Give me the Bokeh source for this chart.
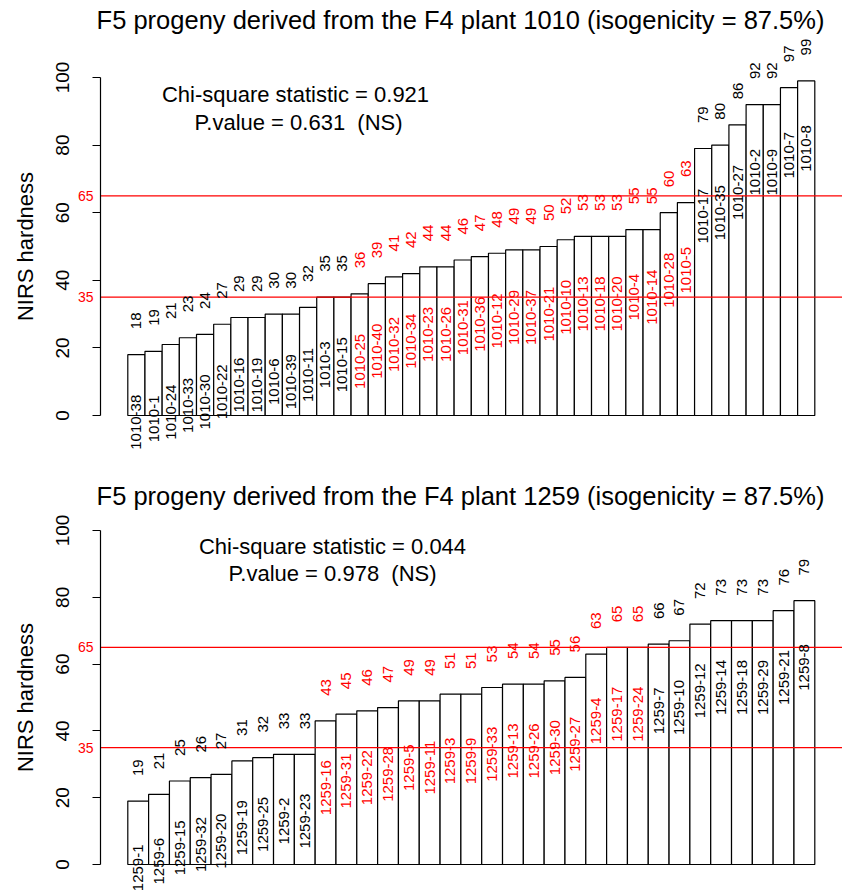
import math
from bokeh.plotting import figure
from bokeh.models import ColumnDataSource, Label, FixedTicker, Range1d
from bokeh.layouts import column
from bokeh.core.properties import value
from bokeh.embed import file_html
from bokeh.resources import INLINE

FONT = "Liberation Sans"

# ---- data ----
top_title = "F5 progeny derived from the F4 plant 1010 (isogenicity = 87.5%)"
top_stat = "Chi-square statistic = 0.921"
top_pval = "P.value = 0.631\u00a0 (NS)"
top_names = ["1010-38", "1010-1", "1010-24", "1010-33", "1010-30", "1010-22", "1010-16",
             "1010-19", "1010-6", "1010-39", "1010-11", "1010-3", "1010-15", "1010-25",
             "1010-40", "1010-32", "1010-34", "1010-23", "1010-26", "1010-31", "1010-36",
             "1010-12", "1010-29", "1010-37", "1010-21", "1010-10", "1010-13", "1010-18",
             "1010-20", "1010-4", "1010-14", "1010-28", "1010-5", "1010-17", "1010-35",
             "1010-27", "1010-2", "1010-9", "1010-7", "1010-8"]
top_values = [18, 19, 21, 23, 24, 27, 29, 29, 30, 30, 32, 35, 35, 36, 39, 41, 42, 44, 44, 46,
              47, 48, 49, 49, 50, 52, 53, 53, 53, 55, 55, 60, 63, 79, 80, 86, 92, 92, 97, 99]

bot_title = "F5 progeny derived from the F4 plant 1259 (isogenicity = 87.5%)"
bot_stat = "Chi-square statistic = 0.044"
bot_pval = "P.value = 0.978\u00a0 (NS)"
bot_names = ["1259-1", "1259-6", "1259-15", "1259-32", "1259-20", "1259-19", "1259-25",
             "1259-2", "1259-23", "1259-16", "1259-31", "1259-22", "1259-28", "1259-5",
             "1259-11", "1259-3", "1259-9", "1259-33", "1259-13", "1259-26", "1259-30",
             "1259-27", "1259-4", "1259-17", "1259-24", "1259-7", "1259-10", "1259-12",
             "1259-14", "1259-18", "1259-29", "1259-21", "1259-8"]
bot_values = [19, 21, 25, 26, 27, 31, 32, 33, 33, 43, 45, 46, 47, 49, 49, 51, 51, 53, 54, 54,
              55, 56, 63, 65, 65, 66, 67, 72, 73, 73, 73, 76, 79]

thresholds = [35, 65]
y_ticks = [0, 20, 40, 60, 80, 100]
y_label = "NIRS hardness"

W = 842
BAR_LEFT_PX = 127.3     # pixel where the first bar starts
BAR_RIGHT_PX = 814.3    # pixel where the last bar ends
AXIS_PX = 100           # pixel of the y axis line


def make_panel(names, vals, title, stat, pval, height, yr, title_y, stat_y, pval_y,
               title_px, stat_px, pval_px):
    n = len(vals)
    bw = (BAR_RIGHT_PX - BAR_LEFT_PX) / n          # pixels per bar
    px2x = lambda px: (px - BAR_LEFT_PX) / bw       # pixel -> data x
    x_start, x_end = px2x(0), px2x(W)
    axis_x = px2x(AXIS_PX)

    xs = [i + 0.5 for i in range(n)]
    colors = ["red" if (thresholds[0] < v <= thresholds[1]) else "black" for v in vals]
    src = ColumnDataSource(dict(
        x=xs, top=vals, names=names, colors=colors,
        vlab=[str(v) for v in vals],
        ytop=[v + 10 for v in vals],
        yname=[v - 20 for v in vals],
    ))
    p = figure(width=W, height=height, output_backend="svg", toolbar_location=None,
               x_range=Range1d(x_start, x_end), y_range=Range1d(*yr),
               x_axis_location=None, y_axis_location="left",
               min_border_left=0, min_border_right=0, min_border_top=0, min_border_bottom=0)
    p.outline_line_color = None
    p.grid.visible = False
    p.background_fill_color = "white"

    ax = p.yaxis[0]
    ax.fixed_location = axis_x
    ax.ticker = FixedTicker(ticks=y_ticks)
    ax.bounds = (0, 100)
    ax.major_label_orientation = "vertical"
    ax.major_label_text_font = FONT
    ax.major_label_text_font_size = "19px"
    ax.major_label_text_color = "black"
    ax.major_label_standoff = 23
    ax.major_tick_in = 0
    ax.major_tick_out = 8
    ax.minor_tick_line_color = None
    ax.axis_line_width = 1.2
    ax.major_tick_line_width = 1.2
    ax.axis_line_color = "black"
    ax.major_tick_line_color = "black"

    p.vbar(x="x", top="top", bottom=0, width=1.0, source=src,
           fill_color="white", line_color="black", line_width=1.2)

    thr_src = ColumnDataSource(dict(y=thresholds, lab=[str(t) for t in thresholds]))
    p.segment(x0=axis_x, x1=x_end, y0="y", y1="y", source=thr_src,
              line_color="red", line_width=1.3)
    p.text(x=px2x(93), y="y", text="lab", source=thr_src, text_align="right",
           text_baseline="middle", text_color="red", text_font=value(FONT),
           text_font_size="14px")

    p.text(x="x", y="ytop", text="vlab", source=src, angle=math.pi / 2,
           text_align="center", text_baseline="middle", text_color="colors",
           text_font=value(FONT), text_font_size="15px")
    p.text(x="x", y="yname", text="names", source=src, angle=math.pi / 2,
           text_align="center", text_baseline="middle", text_color="colors",
           text_font=value(FONT), text_font_size="15px")

    p.add_layout(Label(x=px2x(25), y=50, text=y_label, angle=math.pi / 2,
                       text_align="center", text_baseline="middle", text_font=FONT,
                       text_font_size="22px", text_color="black"))
    p.add_layout(Label(x=px2x(title_px), y=title_y, text=title, text_align="center",
                       text_baseline="alphabetic", text_font=FONT, text_font_size="25.5px",
                       text_color="black"))
    p.add_layout(Label(x=px2x(stat_px), y=stat_y, text=stat, text_align="center",
                       text_baseline="alphabetic", text_font=FONT, text_font_size="22px",
                       text_color="black"))
    p.add_layout(Label(x=px2x(pval_px), y=pval_y, text=pval, text_align="center",
                       text_baseline="alphabetic", text_font=FONT, text_font_size="22px",
                       text_color="black"))
    return p


p1 = make_panel(top_names, top_values, top_title, top_stat, top_pval, 478,
                yr=(-18.64, 122.78), title_y=116.9, stat_y=94.9, pval_y=86.8,
                title_px=460, stat_px=295, pval_px=298)
p2 = make_panel(bot_names, bot_values, bot_title, bot_stat, bot_pval, 415,
                yr=(-8.68, 115.57), title_y=110.2, stat_y=95.2, pval_y=87.1,
                title_px=460, stat_px=332, pval_px=332)

layout = column(p1, p2, spacing=0)
open("out.html", "w").write(file_html(layout, INLINE))
